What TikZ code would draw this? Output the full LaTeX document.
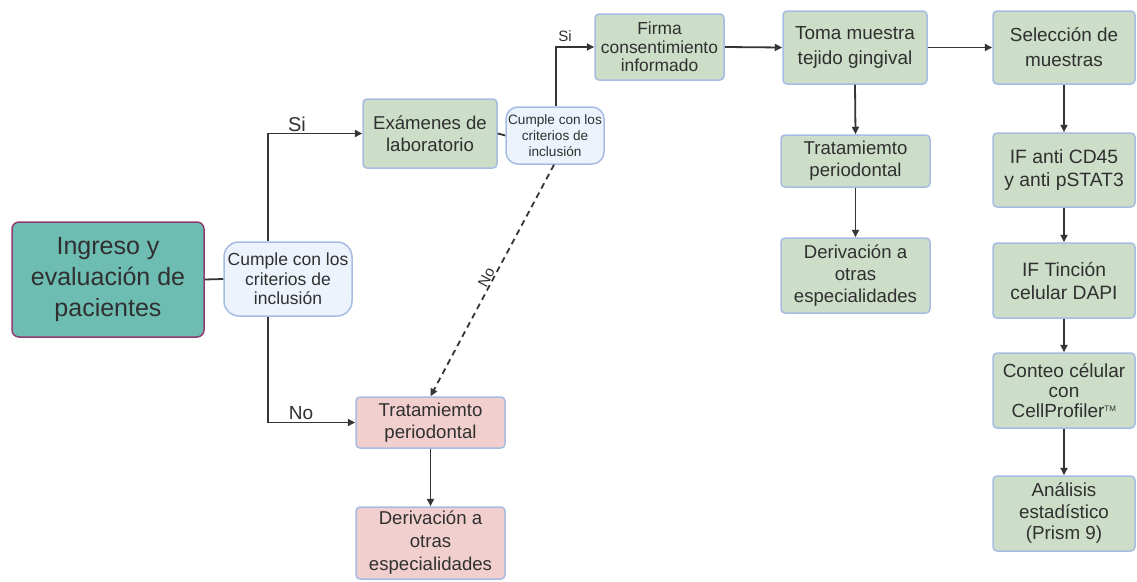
\documentclass[tikz,border=0pt]{standalone}
\usepackage{fontspec}
\setmainfont{Liberation Sans}
\usetikzlibrary{arrows.meta,calc}
\definecolor{txt}{HTML}{303030}
\definecolor{teal}{HTML}{6DBDB2}
\definecolor{purp}{HTML}{8E3C6E}
\definecolor{grn}{HTML}{CCDDC8}
\definecolor{redf}{HTML}{F2CFCF}
\definecolor{bord}{HTML}{A6BCE3}
\definecolor{decf}{HTML}{EDF3FC}
\definecolor{ln}{HTML}{353535}
\newcommand{\fs}[2]{\fontsize{#1}{#2}\selectfont}
\begin{document}
\begin{tikzpicture}[x=1pt,y=-1pt,
  box/.style={draw=bord, line width=1.5pt, rounded corners=4pt, align=center, text=txt, inner sep=0pt},
  gbox/.style={box, fill=grn},
  rbox/.style={box, fill=redf},
  dec/.style={draw=bord, line width=1.5pt, fill=decf, rounded corners=15pt, align=center, text=txt, inner sep=0pt},
  conn/.style={draw=ln, line width=1.8pt},
  arr/.style={conn, -{Triangle[length=7.5pt,width=7pt]}},
  lbl/.style={text=txt, inner sep=1pt}]
\useasboundingbox[fill=white] (0,0) rectangle (1137,581);

\node[box, fill=teal, draw=purp, rounded corners=7pt, minimum width=192pt, minimum height=115pt, font=\fs{25}{31}] (ing) at (108,279.5) {Ingreso y\\evaluación de\\pacientes};
\node[dec, minimum width=128pt, minimum height=74pt, font=\fs{17.5}{19.5}] (c1) at (288,279) {Cumple con los\\criterios de\\inclusión};
\node[gbox, minimum width=134pt, minimum height=69pt, font=\fs{18.6}{22.5}] (exam) at (430,133.5) {Exámenes de\\laboratorio};
\node[dec, rounded corners=12pt, minimum width=98pt, minimum height=57pt, font=\fs{13.6}{16}] (c2) at (555,135.5) {Cumple con los\\criterios de\\inclusión};
\node[gbox, minimum width=129pt, minimum height=66pt, font=\fs{17.4}{18.7}] (firma) at (659.5,47) {Firma\\consentimiento\\informado};
\node[gbox, minimum width=144pt, minimum height=73pt, font=\fs{18.9}{25}] (toma) at (855,47.5) {Toma muestra\\tejido gingival};
\node[gbox, minimum width=142pt, minimum height=73pt, font=\fs{18.9}{25}] (sel) at (1064,47.5) {Selección de\\muestras};
\node[gbox, minimum width=149pt, minimum height=52pt, font=\fs{18.6}{22}] (trat) at (855.5,161) {Tratamiemto\\periodontal};
\node[gbox, minimum width=149pt, minimum height=75pt, font=\fs{18.6}{22}] (deriv) at (855.5,275.5) {Derivación a\\otras\\especialidades};
\node[gbox, minimum width=142pt, minimum height=74pt, font=\fs{19.3}{23}] (if1) at (1064,170) {IF anti CD45\\y anti pSTAT3};
\node[gbox, minimum width=142pt, minimum height=75pt, font=\fs{19.3}{23}] (if2) at (1064,280.5) {IF Tinción\\celular DAPI};
\node[gbox, minimum width=142pt, minimum height=75pt, font=\fs{19}{20}] (cont) at (1064,390.5) {Conteo célular\\con\\CellProfiler\textsuperscript{\fs{8}{8}TM}};
\node[gbox, minimum width=142pt, minimum height=75pt, font=\fs{18.8}{21.5}] (anal) at (1064,513.5) {Análisis\\estadístico\\(Prism 9)};
\node[rbox, minimum width=149pt, minimum height=51pt, font=\fs{18.6}{22.5}] (tratr) at (430.5,422.5) {Tratamiemto\\periodontal};
\node[rbox, minimum width=149pt, minimum height=72pt, font=\fs{18.6}{23}] (derivr) at (430.5,543) {Derivación a\\otras\\especialidades};

\coordinate (v1) at (268,0);
\coordinate (v2) at (556,0);
\coordinate (v3) at (554,0);
\draw[conn] (ing.east) -- (c1.west);
\draw[arr] (c1.north -| v1) |- (exam.west);
\draw[arr] (c1.south -| v1) |- (tratr.west);
\draw[conn] (exam.east) -- (c2.west);
\draw[arr] (c2.north -| v2) |- (firma.west);
\draw[arr, dash pattern=on 6pt off 4.5pt] (c2.south -| v3) -- node[lbl, pos=0.5, rotate=62, anchor=south, inner sep=0.5pt, font=\fs{15}{15}] (lno2) {No} (tratr.north);
\draw[arr] (firma.east) -- (toma.west);
\draw[arr] (toma.east) -- (sel.west);
\draw[arr] (toma.south) -- (trat.north);
\draw[arr] (trat.south) -- (deriv.north);
\draw[arr] (tratr.south) -- (derivr.north);
\draw[arr] (sel.south) -- (if1.north);
\draw[arr] (if1.south) -- (if2.north);
\draw[arr] (if2.south) -- (cont.north);
\draw[arr] (cont.south) -- (anal.north);

\node[lbl, anchor=base, font=\fs{20}{20}] (lsi1) at (297,131) {Si};
\node[lbl, anchor=base, font=\fs{19}{19}] (lno1) at (301,419) {No};
\node[lbl, anchor=base, font=\fs{15}{15}] (lsi2) at (565,41) {Si};
\end{tikzpicture}
\end{document}
